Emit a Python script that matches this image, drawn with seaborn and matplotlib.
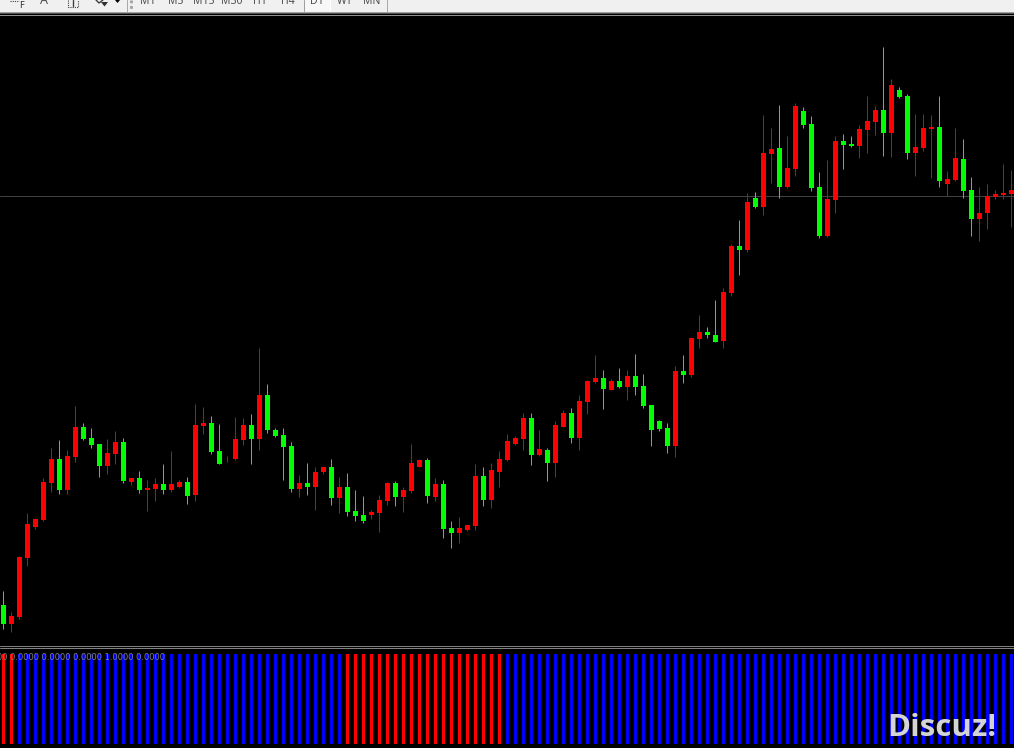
import matplotlib
matplotlib.use("Agg")
import matplotlib.pyplot as plt
import numpy as np
import pandas as pd
import seaborn as sns

# Candle values, in points above the bottom of the price pane
open_ = [41, 22, 29, 88, 119, 126, 163, 187, 156, 189,
         219, 208, 202, 180, 192, 204, 164, 168, 156, 157,
         162, 156, 159, 164, 151, 220, 223, 195, 186.6, 187,
         206, 221, 207, 251, 216, 211, 200, 157, 163, 159,
         174, 179, 148, 159, 135, 131, 131, 133, 145, 163,
         149, 155, 179, 186, 149, 162, 118, 113, 116, 120,
         170, 146, 174, 186, 202, 207, 228, 191, 196, 183,
         219, 233, 208, 244, 264, 268, 256, 265, 259, 270,
         260, 241, 225, 218, 200, 275, 271, 307, 314, 311,
         305, 353, 400, 396, 448, 439, 492, 498, 459, 477,
         535, 522, 459, 410, 446, 505, 502, 500, 516, 524,
         536, 513, 556, 550, 493, 498, 517, 519, 462, 466,
         487, 456, 427, 433, 449, 451, 452]
close = [22, 30, 89, 122, 127, 164, 187, 156, 190, 219,
         207, 201, 180, 193, 204, 165, 168, 156, 158, 162,
         156, 162, 164, 150, 221, 223, 194, 182, 187.2, 207,
         221, 207, 251, 216, 210, 199, 157, 163, 159, 174,
         179, 148, 159, 134, 130, 125, 134, 146, 163, 149,
         156, 183, 186, 150, 162, 117, 113, 118, 121, 170,
         146, 176, 187, 205, 208, 228, 191, 197, 183, 221,
         233, 208, 245, 265, 268, 257, 265, 259, 270, 259,
         240, 216, 217, 200, 275, 271, 308, 314, 311, 304,
         354, 400, 396, 444, 439, 493, 497, 459, 478, 540,
         521, 458, 410, 447, 505, 501, 500, 517, 525, 536,
         513, 561, 549, 493, 499, 518, 519, 465, 467, 488,
         455, 427, 433, 450, 452, 453, 456]
high = [55, 34, 90, 133, 128, 168, 198, 206, 196, 240,
        223, 218, 202, 207, 215, 208, 168, 175, 166, 168,
        182, 195, 166, 169, 242, 239, 230, 222, 190, 229,
        228, 232, 298, 262, 218, 218, 204, 171, 183, 179,
        179, 187, 169, 173, 156, 150, 136, 151, 164, 165,
        159, 202, 187, 188, 168, 166, 125, 129, 121, 182,
        179, 183, 195, 212, 210, 233, 233, 216, 198, 225,
        236, 238, 251, 266, 291, 276, 267, 278, 276, 292,
        272, 241, 226, 223, 280, 291, 309, 331, 319, 346,
        358, 402, 426, 453, 454, 531, 518, 541, 510, 543,
        539, 530, 474, 486, 510, 512, 510, 521, 550, 540,
        599, 567, 559, 552, 532, 532, 531, 550, 475, 518,
        507, 469, 459, 462, 456, 482, 476]
low = [17, 14, 27, 80, 117, 125, 154, 152, 152, 184,
       206, 198, 169, 172, 182, 163, 161, 153, 135, 145,
       152, 154, 158, 142, 145, 212, 192, 182, 184, 186,
       201, 182, 196, 213, 209, 166, 154, 149, 151, 136,
       172, 141, 133, 130, 125, 123, 127, 114, 141, 140,
       134, 153, 179, 143, 145, 108, 98, 103, 115, 116,
       140, 138, 159, 185, 201, 196, 181, 190, 165, 169,
       219, 203, 196, 232, 263, 237, 256, 258, 246, 251,
       238, 200, 215, 193, 189, 263, 269, 298, 308, 304,
       298, 350, 371, 394, 438, 431, 463, 448, 458, 470,
       518, 455, 408, 409, 433, 477, 499, 488, 493, 511,
       490, 489, 548, 487, 470, 495, 468, 459, 450, 465,
       448, 410, 405, 417, 447, 447, 419]

# Lower histogram: candles where the indicator flips to red
red_state = [0, 1] + list(range(43, 63))
price_line = 449.6
tool_labels = ["M1", "M5", "M15", "M30", "H1", "H4", "D1", "W1", "MN"]
tool_label_x = [148, 176, 204, 232, 260, 288, 317, 345, 372]
indicator_text = "00 0.0000 0.0000 0.0000 1.0000 0.0000"

W, H = 1014, 748

sns.set_theme(style="dark", rc={"axes.facecolor": "black", "figure.facecolor": "black"})
plt.rcParams["font.family"] = ["Noto Sans", "DejaVu Sans"]

fig = plt.figure(figsize=(W / 100, H / 100), dpi=100)


def pane(top, bottom):
    ax = fig.add_axes([0, 1 - bottom / H, 1, (bottom - top) / H])
    ax.set_axis_off()
    return ax


ax_top = pane(0, 16)
ax = pane(16, 646)
ax_sep = pane(645, 650)
ax_ind = pane(649, H)

idx = np.arange(len(open_))
# 3.4 rather than 3.5 so the pixel snapping lands on the same columns as the reference
x_range = (-3.4 / 8, (W - 3.4) / 8)

# Toolbar strip
ax_top.set_xlim(0, W)
ax_top.set_ylim(16, 0)
ax_top.set_axis_on()
ax_top.set_xticks([])
ax_top.set_yticks([])
for s in ax_top.spines.values():
    s.set_visible(False)
ax_top.axhspan(0, 12, color="#f0f0f0", lw=0)
ax_top.axhspan(12, 13, color="#a0a0a0", lw=0)
ax_top.axhspan(13, 14, color="#505050", lw=0)
ax_top.axhspan(14, 15, color="#000000", lw=0)
ax_top.axhspan(15, 16, color="#909090", lw=0)
ax_top.fill_between([304, 330], 0, 11, color="#f8f8f8", lw=0)
ax_top.plot([304, 304], [0, 11], color="#a0a0a0", lw=0.72)
ax_top.plot([330, 330], [0, 11], color="#ffffff", lw=0.72)
for sx in (127, 387):
    ax_top.plot([sx, sx], [0, 12], color="#a8a8a8", lw=0.72)
ax_top.plot([131, 131], [0, 10], color="#a0a0a0", lw=2, ls=(0, (1, 1)))
for lab, lx in zip(tool_labels, tool_label_x):
    ax_top.text(lx, 4.5, lab, ha="center", va="baseline", fontsize=7.5, color="#505050")
ax_top.plot([10, 19], [0.7, 0.7], color="#404040", lw=0.8, ls=(0, (1, 1)))
ax_top.text(22, 8, "F", ha="center", va="baseline", fontsize=6.5, color="#303030")
ax_top.text(44.5, 4.5, "A", ha="center", va="baseline", fontsize=9, color="#505050")
ax_top.plot([68, 68, 78, 78], [0, 6.5, 6.5, 0], color="#404040", lw=0.8, ls=(0, (1, 1)))
ax_top.plot([73, 73], [0, 5.5], color="#404040", lw=1)
ax_top.plot([96, 99, 103], [0, 3, 0], color="#404040", lw=1)
ax_top.fill([101, 108, 104.5], [2, 2, 6.5], color="#303030", lw=0)
ax_top.fill([115, 120, 117.5], [0, 0, 3], color="#000000", lw=0)

# Candles
up = np.array(close) > np.array(open_)
body_color = np.where(up, "#ff0000", "#00ff00")
wick_color = np.where(up, "#e00000", "#00e57a")
ax.axhline(price_line, color="#404040", lw=0.72, zorder=1)
ax.vlines(idx, low, high, colors=wick_color, lw=0.72, zorder=2)
ax.bar(idx, np.abs(np.array(close) - np.array(open_)), bottom=np.minimum(open_, close),
       width=0.625, color=body_color, linewidth=0, zorder=3)
ax.set_xlim(*x_range)
ax.set_ylim(0, 630)

# Separator lines between the panes, rows 646 and 648
ax_sep.set_xlim(0, W)
ax_sep.set_ylim(5, 0)
ax_sep.axhline(1.4, color="#808080", lw=0.72)
ax_sep.axhline(3.4, color="#808080", lw=0.72)

# Indicator histogram
ind = pd.DataFrame({
    "bar": idx,
    "value": 1.0,
    "state": ["red" if i in red_state else "blue" for i in idx],
})
sns.barplot(data=ind, x="bar", y="value", hue="state", native_scale=True, dodge=False,
            palette={"red": "#ff0000", "blue": "#0000ff"}, width=0.375, saturation=1,
            linewidth=0, edgecolor="none", legend=False, ax=ax_ind)
ax_ind.set_xlim(*x_range)
ax_ind.set_ylim(-4 / 90, 95 / 90)
ax_ind.set_axis_off()

fig.text(-3 / W, 1 - 657 / H, indicator_text, fontsize=6.0, color="#808080",
         family="DejaVu Sans", ha="left", va="center")
fig.text(997 / W, 1 - 736 / H, "Discuz!", fontsize=22.5, fontweight="bold", color="#d4d4d4",
         family="Open Sans", ha="right", va="baseline")

fig.savefig("out.png", dpi=100, facecolor="black")
